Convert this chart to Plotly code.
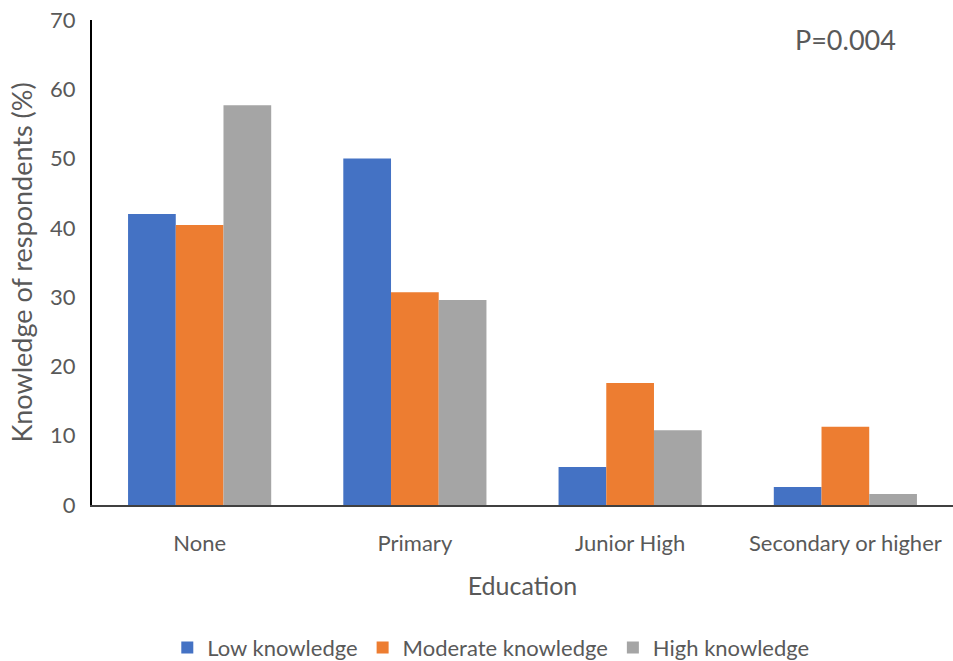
import plotly.graph_objects as go

categories = ["None", "Primary", "Junior High", "Secondary or higher"]
low = [42.0, 50.0, 5.5, 2.6]
moderate = [40.4, 30.7, 17.6, 11.3]
high = [57.7, 29.6, 10.8, 1.6]
series_names = ["Low knowledge", "Moderate knowledge", "High knowledge"]
colors = ["#4472C4", "#ED7D31", "#A5A5A5"]
y_ticks = [0, 10, 20, 30, 40, 50, 60, 70]

FONT = "Lato"
GREY = "#595959"

fig = go.Figure()
for name, vals, c in zip(series_names, [low, moderate, high], colors):
    fig.add_trace(go.Bar(x=categories, y=vals, name=name, marker=dict(color=c, line=dict(width=0))))

fig.update_layout(
    width=953, height=661,
    margin=dict(l=92, r=0, t=20, b=156),
    paper_bgcolor="white", plot_bgcolor="white",
    barmode="group", bargap=0.335, bargroupgap=0,
    font=dict(family=FONT, color=GREY, size=22),
    showlegend=True,
    legend=dict(orientation="h", x=0.515, xanchor="center", xref="container",
                y=0.02, yanchor="middle", yref="container",
                font=dict(size=22, color=GREY), itemwidth=30, traceorder="normal"),
    xaxis=dict(showline=True, linecolor="#404040", linewidth=2, showgrid=False, automargin=False,
               ticks="", tickfont=dict(size=22, color=GREY), ticklabelstandoff=18,
               title=dict(text="Education", font=dict(size=25, color=GREY), standoff=22)),
    yaxis=dict(range=[0, 70], tickvals=y_ticks, showline=True, linecolor="black", linewidth=2,
               showgrid=False, ticks="", zeroline=False, tickfont=dict(size=22, color=GREY),
               ticklabelstandoff=10, automargin=False,
               title=dict(text="Knowledge of respondents (%)", font=dict(size=27, color=GREY), standoff=10)),
    annotations=[dict(text="P=0.004", x=0.875, y=0.96, xref="paper", yref="paper",
                      showarrow=False, font=dict(size=27, color=GREY), xanchor="center", yanchor="middle")],
)

fig.write_html("out.html")
